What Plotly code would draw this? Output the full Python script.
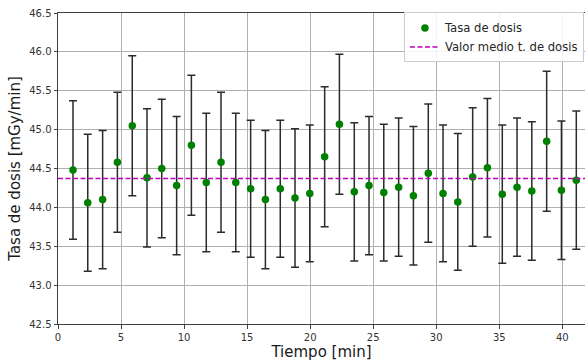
import numpy as np
import plotly.graph_objects as go

# Measurement times [min]
tiempo = [1.19, 2.36, 3.54, 4.71, 5.89, 7.06, 8.23, 9.41, 10.58, 11.76,
          12.93, 14.10, 15.28, 16.45, 17.63, 18.80, 19.97, 21.15, 22.32, 23.50,
          24.67, 25.84, 27.02, 28.19, 29.37, 30.54, 31.71, 32.89, 34.06, 35.24,
          36.41, 37.58, 38.76, 39.93, 41.11]

# Dose rate [mGy/min]
tasa = [44.48, 44.06, 44.10, 44.58, 45.05, 44.38, 44.50, 44.28, 44.80, 44.32,
        44.58, 44.32, 44.24, 44.10, 44.24, 44.12, 44.18, 44.65, 45.07, 44.20,
        44.28, 44.19, 44.26, 44.15, 44.44, 44.18, 44.07, 44.39, 44.51, 44.17,
        44.26, 44.21, 44.85, 44.22, 44.35]

# Uncertainty of each dose rate [mGy/min]
error = [0.89, 0.88, 0.89, 0.90, 0.90, 0.89, 0.89, 0.89, 0.90, 0.89,
         0.90, 0.89, 0.88, 0.89, 0.88, 0.89, 0.88, 0.90, 0.90, 0.89,
         0.89, 0.88, 0.89, 0.89, 0.89, 0.88, 0.88, 0.89, 0.89, 0.89,
         0.89, 0.89, 0.90, 0.89, 0.89]

# Mean dose rate
valor_medio = 44.37

x_lim = [0, 41.8]
y_lim = [42.5, 46.5]

fig = go.Figure()

fig.add_trace(go.Scatter(
    x=tiempo, y=tasa, mode="markers", name="Tasa de dosis",
    marker=dict(color="#008000", size=7.5),
    error_y=dict(type="data", array=error, visible=True,
                 color="#2b2b2b", thickness=1.5, width=4),
))

fig.add_trace(go.Scatter(
    x=x_lim, y=[valor_medio, valor_medio], mode="lines",
    name="Valor medio t. de dosis",
    line=dict(color="#bf00bf", width=1.5, dash="5px,2.5px"),
))

font_family = "DejaVu Sans"
fig.update_layout(
    width=585, height=361,
    margin=dict(l=58, r=0, t=13, b=37),
    paper_bgcolor="white", plot_bgcolor="white",
    font=dict(family=font_family, color="#262626"),
    showlegend=True,
    legend=dict(
        x=0.998, y=1.002, xanchor="right", yanchor="top",
        bgcolor="rgba(255,255,255,0.85)", bordercolor="#cccccc", borderwidth=1,
        font=dict(size=11.6, family=font_family, color="#262626"),
        itemwidth=30, tracegroupgap=0,
    ),
)

fig.update_xaxes(
    range=x_lim, dtick=5, tick0=0,
    showgrid=True, gridcolor="#b0b0b0", gridwidth=1,
    showline=True, linecolor="#404040", linewidth=1, mirror=True,
    ticks="outside", ticklen=3.5, tickcolor="#404040",
    tickfont=dict(size=10, color="#333333"),
    zeroline=False,
    title=dict(text="Tiempo [min]", font=dict(size=15, color="#1a1a1a"), standoff=3),
)
fig.update_yaxes(
    range=y_lim, dtick=0.5, tick0=42.5, tickformat=".1f",
    showgrid=True, gridcolor="#b0b0b0", gridwidth=1,
    showline=True, linecolor="#404040", linewidth=1, mirror=False,
    ticks="outside", ticklen=3.5, tickcolor="#404040",
    tickfont=dict(size=10, color="#333333"),
    zeroline=False,
    title=dict(text="Tasa de dosis [mGy/min]", font=dict(size=15, color="#1a1a1a"), standoff=4),
)

fig.write_html("out.html")
